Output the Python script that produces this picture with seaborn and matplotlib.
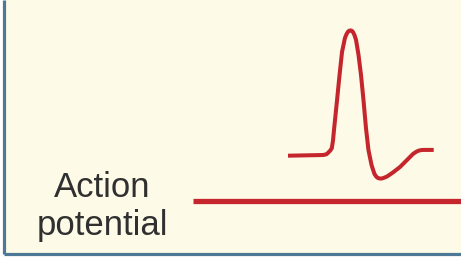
import numpy as np
import pandas as pd
import matplotlib.pyplot as plt
import seaborn as sns
from matplotlib.patches import Rectangle

sns.set_theme(style="white")
plt.rcParams['font.family'] = ['Liberation Sans', 'DejaVu Sans']

# action potential trace (time in ms, membrane voltage in mV)
t_ms = [0.0, 2.40, 2.62, 2.76, 2.90, 3.00, 3.08, 3.15, 3.36, 3.53, 3.70, 3.90,
        4.01, 4.11, 4.20, 4.28, 4.36, 4.45, 4.55, 4.66, 4.83, 5.00, 5.17, 5.34,
        5.51, 5.72, 5.92, 6.05, 6.16, 6.30, 6.44, 6.60, 6.78, 7.19, 7.67, 8.15,
        8.56, 8.75, 8.90, 9.05, 9.23, 9.98]
v_mv = [-70.2, -69.6, -69.0, -67.5, -65.5, -63.6, -57.0, -47.5, -21.0, 1.1, 21.4, 33.8,
        37.3, 39.4, 40.3, 40.5, 40.3, 39.1, 36.5, 32.1, 18.8, 1.1, -21.0, -45.7,
        -65.1, -78.4, -86.3, -88.8, -89.9, -90.4, -90.3, -89.6, -88.6, -85.0, -80.2, -74.0,
        -68.7, -67.0, -66.0, -65.4, -65.1, -65.1]
label_lines = ["Action", "potential"]

red = '#c5262d'
border = '#4d7896'
cream = '#fdfbe8'

W, H = 461, 260
fig = plt.figure(figsize=(W / 100, H / 100), dpi=100, facecolor='white')

# main axes in pixel units for the panel layout
ax = fig.add_axes([0, 0, 1, 1])
ax.set_xlim(0, W)
ax.set_ylim(H, 0)
ax.axis('off')

ax.add_patch(Rectangle((4, 0), W - 4, 254, facecolor=cream, edgecolor='none', zorder=0))
ax.plot([4, 4], [0, 254], color=border, lw=2.3, solid_capstyle='butt', zorder=1)
ax.plot([4, W], [254, 254], color=border, lw=2.3, solid_capstyle='butt', zorder=1)

# axon line
ax.plot([193, W], [201, 201], color=red, lw=3.8, solid_capstyle='butt', zorder=2)

ax.text(102, 197, label_lines[0], ha='center', va='baseline', fontsize=25, color='#303030')
ax.text(102, 235, label_lines[1], ha='center', va='baseline', fontsize=25, color='#303030')

# waveform in its own axes
x0, x1 = 288, 434
y_top, y_bot = 31, 178.1
ins = fig.add_axes([x0 / W, (H - y_bot) / H, (x1 - x0) / W, (y_bot - y_top) / H])
ins.patch.set_alpha(0)
df = pd.DataFrame({'t': t_ms, 'v': v_mv})
sns.lineplot(data=df, x='t', y='v', ax=ins, sort=False, estimator=None,
             color=red, lw=2.9)
for line in ins.lines:
    line.set_clip_on(False)
    line.set_solid_joinstyle('round')
    line.set_solid_capstyle('butt')
ins.set_xlim(0, 10)
ins.set_ylim(-90, 40)
ins.axis('off')

plt.savefig('out.png', dpi=100, facecolor='white')
